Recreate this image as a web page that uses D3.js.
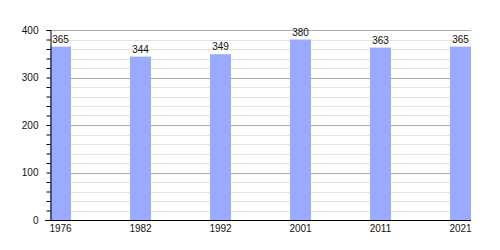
<!DOCTYPE html>
<html>
<head>
<meta charset="utf-8">
<script src="https://cdn.jsdelivr.net/npm/d3@7"></script>
<style>
  html, body { margin: 0; padding: 0; background: #fff; }
  text { font-family: "Liberation Sans", Arial, sans-serif; }
</style>
</head>
<body>
<div id="chart"></div>
<script>
// Chart data
const years = ['1976', '1982', '1992', '2001', '2011', '2021'];
const population = [365, 344, 349, 380, 363, 365];
const yMajorTicks = [0, 100, 200, 300, 400];

const width = 500;
const height = 250;
const plot = { left: 50, right: 471, top: 30, bottom: 220 };

const svg = d3.select('#chart').append('svg')
    .attr('width', width)
    .attr('height', height);

// Scales: step 80px, bar width 21px
const x = d3.scaleBand()
    .domain(years)
    .range([plot.left, plot.right])
    .paddingInner(1 - 21 / 80)
    .paddingOuter(0)
    .align(0);

const y = d3.scaleLinear()
    .domain([0, 400])
    .range([plot.bottom, plot.top]);

// Gridlines: light every 20, darker every 100
const minorValues = d3.range(20, 400, 20).filter(v => v % 100 !== 0);
svg.append('g')
    .attr('class', 'grid-minor')
    .selectAll('line')
    .data(minorValues)
    .enter()
    .append('line')
    .attr('x1', plot.left)
    .attr('x2', plot.right)
    .attr('y1', d => Math.round(y(d)) + 0.5)
    .attr('y2', d => Math.round(y(d)) + 0.5)
    .attr('stroke', '#e2e2e2')
    .attr('stroke-width', 1);

svg.append('g')
    .attr('class', 'grid-major')
    .selectAll('line')
    .data(yMajorTicks.filter(v => v > 0))
    .enter()
    .append('line')
    .attr('x1', plot.left)
    .attr('x2', plot.right)
    .attr('y1', d => Math.round(y(d)) + 0.5)
    .attr('y2', d => Math.round(y(d)) + 0.5)
    .attr('stroke', '#aaaaaa')
    .attr('stroke-width', 1);

// Bars
svg.append('g')
    .attr('class', 'bars')
    .selectAll('rect')
    .data(population)
    .enter()
    .append('rect')
    .attr('x', (d, i) => x(years[i]))
    .attr('y', d => y(d))
    .attr('width', x.bandwidth())
    .attr('height', d => y(0) - y(d))
    .attr('fill', '#99aaff');

// Value labels
svg.append('g')
    .attr('class', 'values')
    .selectAll('text')
    .data(population)
    .enter()
    .append('text')
    .attr('x', (d, i) => x(years[i]) + x.bandwidth() / 2)
    .attr('y', d => y(d) - 4)
    .attr('text-anchor', 'middle')
    .style('font-size', '10px')
    .style('fill', '#111')
    .text(d => d);

// Y axis with minor ticks every 20
const yAxis = svg.append('g')
    .attr('class', 'y-axis')
    .attr('transform', `translate(${plot.left + 0.5},0)`)
    .call(d3.axisLeft(y)
        .tickValues(d3.range(0, 401, 20))
        .tickSize(4)
        .tickPadding(8)
        .tickFormat(d => (d % 100 === 0 ? d : '')));
yAxis.select('.domain').attr('stroke', '#000');
yAxis.selectAll('.tick line').attr('stroke', '#000');
yAxis.selectAll('text').style('font-size', '10px').style('fill', '#111');

// X axis
const xAxis = svg.append('g')
    .attr('class', 'x-axis')
    .attr('transform', `translate(0,${plot.bottom})`)
    .call(d3.axisBottom(x).tickSize(0).tickPadding(5));
xAxis.select('.domain').remove();
xAxis.selectAll('text').style('font-size', '10px').style('fill', '#111');
xAxis.append('line')
    .attr('x1', plot.left - 5)
    .attr('x2', plot.right)
    .attr('y1', 0.5)
    .attr('y2', 0.5)
    .attr('stroke', '#000')
    .attr('stroke-width', 1);
</script>
</body>
</html>
